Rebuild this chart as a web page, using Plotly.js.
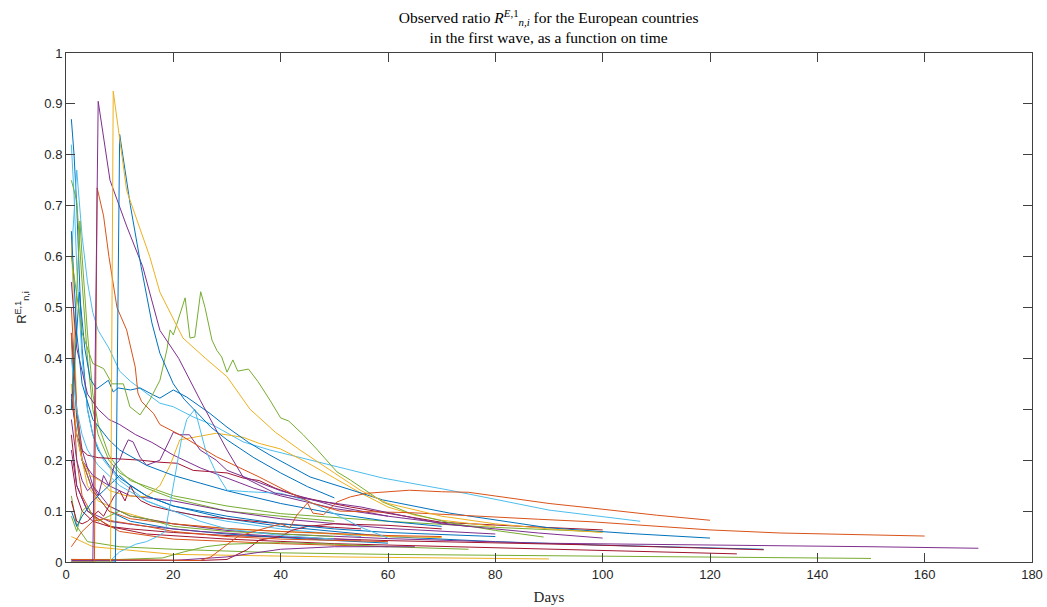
<!DOCTYPE html>
<html>
<head>
<meta charset="utf-8">
<script src="https://cdn.plot.ly/plotly-3.0.1.min.js"></script>
<style>html,body{margin:0;padding:0;background:#fff;}#chart{width:1047px;height:607px;}</style>
</head>
<body>
<div id="chart"></div>
<script>
// MATLAB default colour order
const cBlue = '#0072BD', cOrange = '#D95319', cYellow = '#EDB120', cPurple = '#7E2F8E',
      cGreen = '#77AC30', cLight = '#4DBEEE', cRed = '#A2142F';

const xTicks = [0, 20, 40, 60, 80, 100, 120, 140, 160, 180];
const yTicks = [0, 0.1, 0.2, 0.3, 0.4, 0.5, 0.6, 0.7, 0.8, 0.9, 1];

// Series (days, ratio)
const s01x = [1,1.5,2,2.5,3,4,5,6,8,10,15,20,30,40,50,60,80,100,130];
const s01y = [0.87,0.8,0.7,0.55,0.42,0.3,0.25,0.22,0.19,0.165,0.13,0.11,0.085,0.07,0.06,0.05,0.04,0.033,0.025];
const s02x = [1,2,3,4,5,6,8,10,12,15,17.5,20,23.7,27.4,33,38,46.7,59,71.5,90,107];
const s02y = [0.6,0.77,0.64,0.55,0.49,0.455,0.42,0.375,0.355,0.331,0.312,0.305,0.285,0.269,0.236,0.22,0.197,0.165,0.141,0.102,0.08];
const s03x = [1,1.5,2,3,4,5,7,10,15,20,30,40,55];
const s03y = [0.82,0.72,0.58,0.4,0.3,0.25,0.2,0.16,0.12,0.1,0.08,0.065,0.05];
const s04x = [1,2,3,4,5,6,8,10,15,20,30,40,50];
const s04y = [0.75,0.71,0.55,0.4,0.3,0.25,0.2,0.175,0.145,0.125,0.1,0.09,0.08];
const s05x = [1,2,2.6,3,4,5,6,8,10,12,20,30,40,60,80,100];
const s05y = [0.3,0.55,0.67,0.6,0.45,0.33,0.27,0.21,0.18,0.16,0.13,0.11,0.095,0.08,0.068,0.059];
const s06x = [1,1.5,2,3,4,6,10,15,20,30,40,50,60,70];
const s06y = [0.64,0.45,0.3,0.2,0.15,0.12,0.1,0.085,0.075,0.065,0.06,0.055,0.05,0.048];
const s07x = [1,2,3,4,6,8,14,17.5,20.7,23.7,26.8,30,33,36,39,43.6,53,70,85,100];
const s07y = [0.32,0.25,0.22,0.21,0.205,0.204,0.2,0.196,0.194,0.18,0.177,0.175,0.165,0.16,0.145,0.128,0.108,0.078,0.07,0.063];
const s08x = [1,5,6,8.2,11.3,14.3,17.5,21,25,28.7,30,33,39,47,55,70,88,100];
const s08y = [0,0,0.905,0.75,0.66,0.58,0.455,0.4,0.318,0.245,0.22,0.167,0.135,0.12,0.108,0.075,0.057,0.047];
const s09x = [1,8.3,8.8,11.3,15.6,17.5,21.8,26,30,34.3,39,43.6,50,55,60,70,80,90,100];
const s09y = [0,0,0.925,0.73,0.6,0.53,0.44,0.4,0.364,0.3,0.255,0.22,0.175,0.14,0.115,0.09,0.075,0.065,0.058];
const s10x = [1,9.2,10,12,14,16,17.5,20,22,27,30,35,40,45,50];
const s10y = [0,0,0.84,0.7,0.58,0.47,0.41,0.35,0.32,0.265,0.24,0.205,0.175,0.148,0.126];
const s11x = [1,2.5,3.5,4.5,5.7,7.9,8.8,9.7,12,13.8,16.3,17.5,20,22.5,26.8,30,34,38,45.5,59,71.5,90,105,120];
const s11y = [0.3,0.53,0.42,0.36,0.34,0.357,0.334,0.342,0.338,0.342,0.328,0.322,0.338,0.324,0.292,0.265,0.235,0.21,0.167,0.122,0.096,0.067,0.056,0.047];
const s12x = [1,3,5,7,8.6,10.7,11.9,13.8,15.6,17.5,18.8,19.4,20,22.2,23.1,24,25.1,25.9,27.2,28.1,29,30,31.1,32,34,35.8,38,40,41.5,44.2,46.7,50.5,53,59,64,71.5,80,89];
const s12y = [0.6,0.45,0.39,0.38,0.35,0.35,0.305,0.289,0.318,0.357,0.417,0.456,0.446,0.519,0.44,0.442,0.531,0.5,0.436,0.416,0.403,0.373,0.397,0.375,0.379,0.354,0.318,0.283,0.277,0.25,0.222,0.177,0.161,0.118,0.096,0.077,0.062,0.049];
const s13x = [1,8,10,13,15,17,18.5,20,21.5,22.5,24,25,26,28,30,34,40,45,50,55,60];
const s13y = [0,0,0.02,0.035,0.04,0.05,0.06,0.15,0.24,0.28,0.3,0.26,0.22,0.175,0.141,0.138,0.135,0.12,0.095,0.068,0.047];
const s14x = [1,5.3,5.8,7,8,9.5,11.3,12.9,13.4,14.1,16.3,17.5,21.2,28,36,41,46,51,64,79,88,98,110,120,133,145,160];
const s14y = [0,0,0.735,0.68,0.6,0.5,0.456,0.383,0.332,0.315,0.292,0.27,0.25,0.207,0.167,0.14,0.115,0.1,0.097,0.088,0.084,0.079,0.07,0.063,0.057,0.054,0.051];
const s15x = [1,20,25,27,30,32,36,40,41.7,43,45,46,48,50.5,53,56,64,70,75,81,90,98,110,120];
const s15y = [0.005,0.003,0.003,0.01,0.035,0.05,0.063,0.075,0.067,0.092,0.116,0.096,0.093,0.118,0.128,0.135,0.141,0.138,0.137,0.128,0.115,0.106,0.092,0.082];
const s16x = [1,2,3,5,8,12,20,30,40,60,88,110,133,150,170];
const s16y = [0.45,0.3,0.22,0.15,0.11,0.09,0.075,0.062,0.055,0.046,0.037,0.035,0.032,0.03,0.027];
const s17x = [1,2,4,10,20,40,60,100,150];
const s17y = [0.13,0.07,0.04,0.03,0.025,0.018,0.015,0.011,0.007];
const s18x = [1,2,4,8,15,30,50,80,100,125];
const s18y = [0.25,0.15,0.1,0.07,0.055,0.045,0.036,0.028,0.024,0.016];
const s19x = [1,2,3,5,8,12,20,30,45,60,96,130];
const s19y = [0.2,0.13,0.1,0.08,0.07,0.065,0.058,0.052,0.047,0.042,0.034,0.024];
const s20x = [1,5,20,50,90];
const s20y = [0.05,0.03,0.015,0.01,0.006];
const s21x = [1,2,3,5,8,12,20,30,40,50,60,80];
const s21y = [0.33,0.25,0.2,0.17,0.15,0.13,0.12,0.1,0.085,0.075,0.066,0.055];
const s22x = [1,2,3,5,8,12,20,30,45,60];
const s22y = [0.45,0.28,0.2,0.14,0.1,0.08,0.065,0.055,0.045,0.037];
const s23x = [1,2,4,8,15,25,40,55];
const s23y = [0.22,0.15,0.1,0.08,0.07,0.06,0.05,0.043];
const s24x = [1,2,3,5,8,12,20,30,40,50,60,70];
const s24y = [0.5,0.3,0.2,0.14,0.1,0.085,0.075,0.066,0.06,0.056,0.052,0.05];
const s25x = [1,2,3,4.5,6.3,8.2,11.3,15,17.5,19.4,21.2,23.7,28,33,36,40,45,50,55,60,65,70,80];
const s25y = [0.35,0.25,0.2,0.17,0.16,0.14,0.13,0.128,0.15,0.19,0.24,0.245,0.253,0.245,0.233,0.222,0.195,0.165,0.135,0.108,0.092,0.082,0.07];
const s26x = [1,1.5,2,3,5,10,20,30,40,60];
const s26y = [0.45,0.3,0.2,0.13,0.09,0.06,0.045,0.04,0.036,0.03];
const s27x = [1,25,30,33.7,36,40,42,45,50,60,70];
const s27y = [0.005,0.003,0.005,0.024,0.043,0.05,0.062,0.07,0.075,0.072,0.065];
const s28x = [1,10,18,22,26,30,40,50,60,75];
const s28y = [0.005,0.005,0.008,0.02,0.03,0.035,0.038,0.035,0.03,0.025];
const s29x = [1,20,30,40,50,65];
const s29y = [0.003,0.003,0.01,0.025,0.03,0.03];
const s30x = [1,2,3,4,5,6,7,8,9,10,11,12,13,14,16,20,25,30,40,50,55];
const s30y = [0.12,0.08,0.075,0.08,0.09,0.1,0.09,0.11,0.13,0.14,0.12,0.15,0.13,0.12,0.11,0.1,0.09,0.085,0.075,0.068,0.065];
const s31x = [1,2,3,4,5,6,8,10,12,15,20,30,40,50];
const s31y = [0.09,0.06,0.1,0.11,0.09,0.08,0.09,0.1,0.09,0.085,0.07,0.06,0.055,0.05];
const s32x = [1,3,5,7,9,12,15,20,30,40,50,60];
const s32y = [0.03,0.06,0.08,0.085,0.08,0.075,0.07,0.06,0.05,0.045,0.043,0.04];
const s33x = [1,2,3,4,5,6,7,8,9,10,10.7,11.6,12.5,13.8,15,17.5,20,21.2,23,25,28,30,35,40,50,60,75];
const s33y = [0.28,0.2,0.16,0.14,0.15,0.13,0.17,0.15,0.19,0.2,0.22,0.24,0.236,0.206,0.19,0.2,0.255,0.25,0.25,0.22,0.2,0.18,0.16,0.14,0.11,0.09,0.07];
const s34x = [1,2,3,5,7,9,10,12,15,20,30,40,50,60,80];
const s34y = [0.1,0.07,0.09,0.12,0.14,0.16,0.17,0.15,0.13,0.11,0.09,0.075,0.065,0.058,0.05];
const s35x = [1,2,3,4,6,8,10,15,20,25,30,40,50];
const s35y = [0.4,0.3,0.25,0.22,0.19,0.17,0.15,0.12,0.1,0.08,0.065,0.052,0.045];
const s36x = [1,2,4,6,8,10,13,16,20,25,30,35,40,50,60];
const s36y = [0.55,0.42,0.33,0.3,0.28,0.27,0.25,0.235,0.21,0.185,0.165,0.145,0.13,0.105,0.09];
const s37x = [1,2,3,5,8,10,15,20,25,30,40,50,60,70];
const s37y = [0.65,0.45,0.35,0.28,0.24,0.22,0.19,0.17,0.155,0.14,0.115,0.095,0.08,0.07];

const series = [
  [s01x, s01y, cBlue], [s02x, s02y, cLight], [s03x, s03y, cLight], [s04x, s04y, cGreen],
  [s05x, s05y, cGreen], [s06x, s06y, cYellow], [s07x, s07y, cRed], [s16x, s16y, cPurple],
  [s17x, s17y, cGreen], [s18x, s18y, cRed], [s19x, s19y, cRed], [s20x, s20y, cYellow],
  [s21x, s21y, cPurple], [s22x, s22y, cBlue], [s23x, s23y, cPurple], [s24x, s24y, cOrange],
  [s25x, s25y, cYellow], [s26x, s26y, cOrange], [s27x, s27y, cRed], [s28x, s28y, cGreen],
  [s29x, s29y, cPurple], [s30x, s30y, cRed], [s31x, s31y, cGreen], [s32x, s32y, cOrange],
  [s33x, s33y, cPurple], [s34x, s34y, cBlue], [s35x, s35y, cLight],
  [s36x, s36y, cPurple], [s37x, s37y, cBlue],
  [s11x, s11y, cBlue], [s12x, s12y, cGreen], [s13x, s13y, cLight], [s15x, s15y, cOrange],
  [s14x, s14y, cOrange], [s08x, s08y, cPurple], [s10x, s10y, cBlue], [s09x, s09y, cYellow]
];

const traces = series.map(s => ({
  type: 'scatter', mode: 'lines', x: s[0], y: s[1],
  line: {color: s[2], width: 1}, hoverinfo: 'skip'
}));

const axisCommon = {
  showline: true, mirror: 'ticks', linecolor: '#404040', linewidth: 1,
  ticks: 'inside', ticklen: 9, tickwidth: 1, tickcolor: '#404040',
  showgrid: false, zeroline: false,
  tickfont: {family: 'Liberation Sans, Arial, sans-serif', size: 13, color: '#262626'}
};

const layout = {
  width: 1047, height: 607,
  margin: {l: 66, r: 15, t: 53, b: 45},
  paper_bgcolor: '#ffffff', plot_bgcolor: '#ffffff',
  showlegend: false,
  title: {
    text: 'Observed ratio <i>R</i><sup><i>E</i>,1</sup><sub><i>n,i</i></sub> for the European countries<br>in the first wave, as a function on time',
    font: {family: 'Liberation Serif, Times New Roman, serif', size: 15.5, color: '#000'},
    x: 0.524, xanchor: 'center', xref: 'container',
    y: 0.962, yanchor: 'top', yref: 'container'
  },
  xaxis: Object.assign({}, axisCommon, {
    range: [0, 180], tickvals: xTicks, ticktext: xTicks.map(String),
    title: {text: 'Days', font: {family: 'Liberation Serif, Times New Roman, serif', size: 15, color: '#262626'}, standoff: 10}
  }),
  yaxis: Object.assign({}, axisCommon, {
    range: [0, 1], tickvals: yTicks, ticktext: yTicks.map(String),
    title: {text: 'R<sup>E,1</sup><sub>n,i</sub>', font: {family: 'Liberation Sans, Arial, sans-serif', size: 13, color: '#262626'}, standoff: 14}
  })
};

Plotly.newPlot('chart', traces, layout, {displayModeBar: false, staticPlot: true});
</script>
</body>
</html>
